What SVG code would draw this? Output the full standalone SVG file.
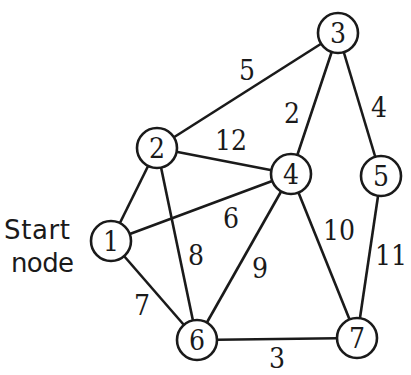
<svg xmlns="http://www.w3.org/2000/svg" width="411" height="375" viewBox="0 0 411 375">
<style>
.e{stroke:#1a1a1a;stroke-width:2.6;fill:none}
.c{fill:#fff;stroke:#1a1a1a;stroke-width:2.6}
.t{font-family:'DejaVu Serif Condensed','DejaVu Serif',serif;font-size:28px;fill:#1a1a1a;text-anchor:middle}
.h{font-family:'DejaVu Sans','Liberation Sans',sans-serif;font-size:26px;fill:#1a1a1a}
</style>
<rect width="411" height="375" fill="#fff"/>
<g id="edges">
<line class="e" x1="157" y1="148" x2="338" y2="33"/>
<line class="e" x1="157" y1="148" x2="291" y2="174"/>
<line class="e" x1="338" y1="33" x2="291" y2="174"/>
<line class="e" x1="338" y1="33" x2="381" y2="176"/>
<line class="e" x1="111" y1="241" x2="157" y2="148"/>
<line class="e" x1="111" y1="241" x2="291" y2="174"/>
<line class="e" x1="157" y1="148" x2="197" y2="340"/>
<line class="e" x1="111" y1="241" x2="197" y2="340"/>
<line class="e" x1="291" y1="174" x2="197" y2="340"/>
<line class="e" x1="291" y1="174" x2="357" y2="338"/>
<line class="e" x1="381" y1="176" x2="357" y2="338"/>
<line class="e" x1="197" y1="340" x2="357" y2="338"/>
</g>
<g id="weights">
<text class="t" x="247" y="80">5</text>
<text class="t" x="231" y="150">12</text>
<text class="t" x="292" y="123">2</text>
<text class="t" x="379" y="117">4</text>
<text class="t" x="231" y="228">6</text>
<text class="t" x="196" y="265">8</text>
<text class="t" x="260" y="278">9</text>
<text class="t" x="339" y="240">10</text>
<text class="t" x="391" y="265">11</text>
<text class="t" x="277" y="368">3</text>
<text class="t" x="142" y="315">7</text>
</g>
<g id="label-start">
<text class="h" x="4" y="239" textLength="66">Start</text>
<text class="h" x="11" y="272" textLength="63">node</text>
</g>
<g id="node1"><circle class="c" cx="111" cy="241" r="20"/><text class="t" x="111" y="251">1</text></g>
<g id="node2"><circle class="c" cx="157" cy="148" r="20"/><text class="t" x="157" y="158">2</text></g>
<g id="node3"><circle class="c" cx="338" cy="33" r="20"/><text class="t" x="338" y="43">3</text></g>
<g id="node4"><circle class="c" cx="291" cy="174" r="20"/><text class="t" x="291" y="184">4</text></g>
<g id="node5"><circle class="c" cx="381" cy="176" r="20"/><text class="t" x="381" y="186">5</text></g>
<g id="node6"><circle class="c" cx="197" cy="340" r="20"/><text class="t" x="197" y="350">6</text></g>
<g id="node7"><circle class="c" cx="357" cy="338" r="20"/><text class="t" x="357" y="348">7</text></g>
</svg>
